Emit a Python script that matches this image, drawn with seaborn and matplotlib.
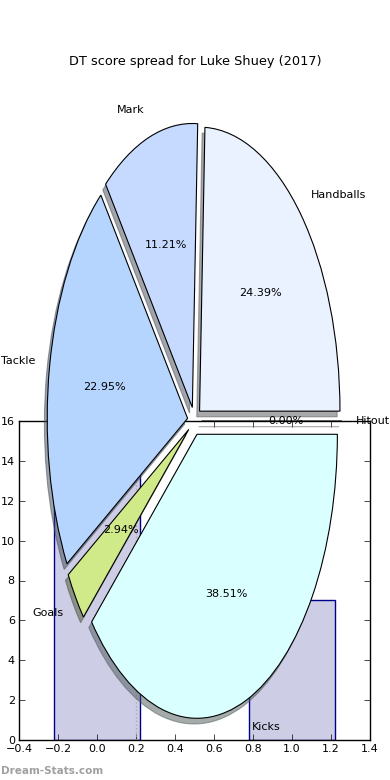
import numpy as np
import matplotlib
matplotlib.use("Agg")
import matplotlib.pyplot as plt
import seaborn as sns

# pie data
labels = ["Handballs", "Mark", "Tackle", "Goals", "Kicks", "Hitout"]
shares = [24.39, 11.21, 22.95, 2.94, 38.51, 0.0]
slice_colors = ["#eaf1ff", "#c6daff", "#b5d5ff", "#d0ea8a", "#d9ffff", "#ffd9d9"]
explode = [0.05, 0.05, 0.05, 0.05, 0.05, 0.05]

# background bars
bar_x = [0, 1]
bar_heights = [16, 7]
x_ticks = [-0.4, -0.2, 0.0, 0.2, 0.4, 0.6, 0.8, 1.0, 1.2, 1.4]
y_ticks = [0, 2, 4, 6, 8, 10, 12, 14, 16]

W, H = 390, 780
fig = plt.figure(figsize=(W / 100, H / 100), dpi=100)

# bar axes (behind)
ax_bar = fig.add_axes([19 / W, 40 / H, 351 / W, 319 / H])
sns.barplot(x=bar_x, y=bar_heights, native_scale=True, width=0.44,
            color="#cdcde6", edgecolor="#00008b", linewidth=1,
            saturation=1, errorbar=None, ax=ax_bar)
ax_bar.axvline(0.2, ls=":", color="#aaaaaa", lw=1)
ax_bar.set_xlim(-0.4, 1.4)
ax_bar.set_ylim(0, 16)
ax_bar.set_xticks(x_ticks)
ax_bar.set_yticks(y_ticks)
ax_bar.set_xlabel("")
ax_bar.set_ylabel("")
ax_bar.tick_params(direction="in", length=4, width=0.5, top=True, right=True,
                   labelsize=8, pad=3)
for s in ax_bar.spines.values():
    s.set_linewidth(1)
    s.set_color("black")

# pie axes (on top, transparent)
ax_pie = fig.add_axes([19 / W, 4 / H, 351 / W, 710 / H])
# old-style shadow: 0.02 data units (newer mpl scales ox/oy by dpi/72)
off = -0.02 * 72 / 100
wedges, texts, autotexts = ax_pie.pie(
    shares, explode=explode, labels=labels, colors=slice_colors,
    autopct="%1.2f%%", shadow=dict(ox=off, oy=off, shade=0.65),
    startangle=0, labeldistance=1.1, pctdistance=0.6,
    wedgeprops=dict(edgecolor="black", linewidth=0.8),
    textprops=dict(fontsize=8))
ax_pie.set_aspect("auto")
ax_pie.set_xlim(-1.25, 1.25)
ax_pie.set_ylim(-1.25, 1.25)

fig.text(0.5, 1 - 61 / H, "DT score spread for Luke Shuey (2017)",
         ha="center", va="center", fontsize=9.3)
fig.text(1 / W, 1 - 771 / H, "Dream-Stats.com", ha="left", va="center",
         fontsize=7.5, fontweight="bold", color="#a0a0a0")

fig.savefig("out.png", dpi=100)
